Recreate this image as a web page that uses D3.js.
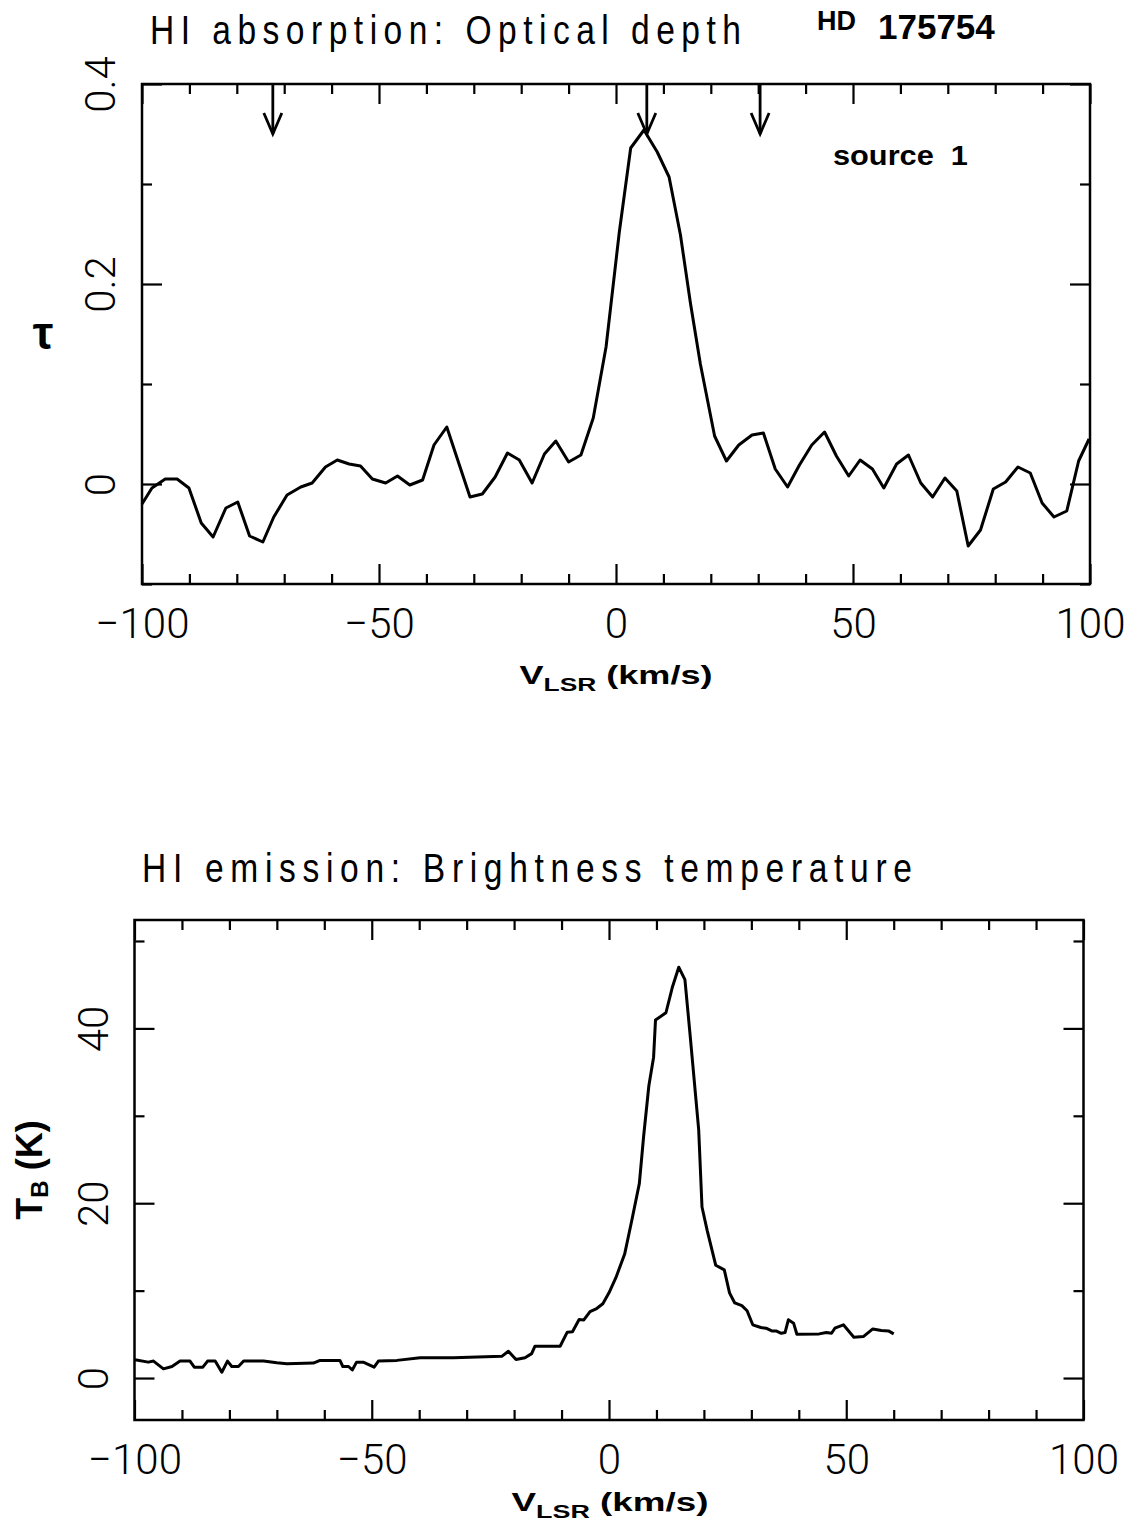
<!DOCTYPE html>
<html>
<head>
<meta charset="utf-8">
<script src="https://cdn.jsdelivr.net/npm/d3@7"></script>
<style>
html,body{margin:0;padding:0;background:#fff;}
svg{display:block;}
</style>
</head>
<body>
<div id="chart"></div>
<script>
// ---------------- DATA ----------------
// Top panel: HI absorption optical depth tau vs V_LSR (km/s)
const tauVelocity = [-100,-97.9,-95.1,-92.6,-90.1,-87.5,-85.0,-82.3,-79.8,-77.3,-74.5,-72.2,-69.4,-66.5,-64.1,-61.3,-58.8,-56.3,-53.9,-51.4,-48.6,-46.1,-43.5,-40.8,-38.4,-35.7,-30.8,-28.2,-25.5,-22.9,-20.4,-17.7,-15.1,-12.7,-10.0,-7.4,-4.8,-2.1,0.7,3.1,5.9,8.7,11.2,13.6,15.7,17.8,20.8,23.3,25.9,28.7,31.1,33.6,36.2,38.7,41.3,44.0,46.5,49.1,51.5,54.1,56.5,59.2,61.7,64.3,66.8,69.4,71.9,74.3,76.9,79.6,82.2,84.8,87.4,89.9,92.4,95.1,97.6,99.8];
const tauValues = [-0.020,-0.004,0.005,0.005,-0.004,-0.039,-0.053,-0.024,-0.018,-0.052,-0.058,-0.033,-0.011,-0.003,0.001,0.017,0.024,0.020,0.018,0.005,0.001,0.008,-0.001,0.004,0.039,0.057,-0.013,-0.010,0.007,0.031,0.024,0.001,0.030,0.043,0.022,0.029,0.066,0.137,0.252,0.336,0.354,0.332,0.307,0.249,0.181,0.120,0.048,0.023,0.039,0.049,0.051,0.015,-0.003,0.019,0.039,0.052,0.028,0.008,0.024,0.015,-0.004,0.020,0.029,0.001,-0.013,0.006,-0.007,-0.062,-0.046,-0.005,0.002,0.017,0.011,-0.019,-0.033,-0.027,0.023,0.045];
// Arrow markers (velocities of components)
const arrowVelocity = [-72.4, 6.5, 30.4];
const arrowTop = 0.4, arrowTip = 0.35;

// Bottom panel: HI emission brightness temperature T_B (K) vs V_LSR
const tbVelocity = [-99.9,-97.1,-96.0,-93.9,-92.1,-90.4,-88.3,-87.4,-85.6,-84.6,-83.0,-81.6,-80.4,-79.5,-78.1,-77.0,-72.8,-70.0,-67.9,-62.3,-60.9,-56.7,-56.1,-54.9,-54.1,-53.2,-51.8,-49.5,-48.6,-44.7,-39.8,-32.8,-22.6,-21.2,-19.6,-17.7,-16.3,-15.6,-10.3,-8.8,-7.7,-6.3,-5.3,-4.0,-2.6,-1.3,0.0,1.45,3.3,4.8,6.4,7.3,8.4,9.4,9.8,12.0,13.4,14.7,16.0,17.1,18.9,19.6,20.7,22.5,24.3,25.4,26.5,28.0,29.1,30.3,32.0,33.1,34.3,35.2,36.3,37.1,37.8,38.9,39.6,44.3,45.8,46.9,47.6,49.4,51.6,53.6,55.6,57.4,58.9,60.0];
const tbValues = [2.09,1.82,1.94,1.05,1.32,1.94,1.94,1.24,1.24,1.94,1.94,0.66,1.94,1.32,1.32,1.94,1.94,1.74,1.63,1.71,2.02,2.02,1.32,1.32,0.93,1.82,1.82,1.24,1.94,2.02,2.33,2.33,2.48,3.06,2.13,2.33,2.79,3.64,3.64,5.25,5.30,6.70,6.65,7.60,7.95,8.50,9.75,11.48,14.18,18.03,22.27,27.66,33.44,36.71,40.95,41.79,44.80,47.0,45.57,39.21,28.43,19.57,16.87,12.90,12.37,9.75,8.59,8.28,7.70,6.09,5.78,5.70,5.39,5.39,5.12,5.20,6.66,6.28,5.01,5.05,5.20,5.12,5.70,6.09,4.66,4.74,5.62,5.43,5.39,5.05];

// Axis ticks and labels
const velocityMajorTicks = [-100,-50,0,50,100];
const velocityTickLabels = ["\u2212100","\u221250","0","50","100"];
const velocityMinorTicks = [-90,-80,-70,-60,-40,-30,-20,-10,10,20,30,40,60,70,80,90];
const tauMajorTicks = [0,0.2,0.4];
const tauTickLabels = ["0","0.2","0.4"];
const tauMinorTicks = [-0.1,0.1,0.3];
const tbMajorTicks = [0,20,40];
const tbTickLabels = ["0","20","40"];
const tbMinorTicks = [10,30,50];

const topTitle = "HI absorption: Optical depth";
const bottomTitle = "HI emission: Brightness temperature";
const starName = ["HD", "175754"];
const sourceLabel = "source  1";

// ---------------- DRAWING ----------------
const W = 1145, H = 1532;
const svg = d3.select("#chart").append("svg").attr("width", W).attr("height", H);

const tickFont = "Roboto, 'Liberation Sans', Arial, sans-serif";
const titleFont = "'Liberation Sans', Arial, sans-serif";
const boldFont = "'Liberation Sans', Arial, sans-serif";

function panel(opts) {
  const {x, y, yMajor, yLabels, yMinor} = opts;
  const [x0, x1] = x.range();
  const [y0, y1] = y.range(); // y0 bottom, y1 top
  const g = svg.append("g");

  function styleAxis(sel) {
    sel.attr("font-size", null).attr("font-family", null);
    sel.select(".domain").remove();
    sel.selectAll("line").attr("stroke", "#000").attr("stroke-width", 2.2);
  }
  const sides = [
    [d3.axisBottom(x).tickValues(velocityMinorTicks), `translate(0,${y0})`],
    [d3.axisTop(x).tickValues(velocityMinorTicks), `translate(0,${y1})`],
    [d3.axisLeft(y).tickValues(yMinor), `translate(${x0},0)`],
    [d3.axisRight(y).tickValues(yMinor), `translate(${x1},0)`]
  ];
  sides.forEach(([ax, tr]) => {
    g.append("g").attr("transform", tr)
      .call(ax.tickSizeInner(-10).tickSizeOuter(0).tickFormat(""))
      .call(styleAxis);
  });
  g.append("g").attr("transform", `translate(0,${y1})`)
    .call(d3.axisTop(x).tickValues(velocityMajorTicks).tickSizeInner(-20).tickSizeOuter(0).tickFormat(""))
    .call(styleAxis);
  g.append("g").attr("transform", `translate(${x1},0)`)
    .call(d3.axisRight(y).tickValues(yMajor).tickSizeInner(-20).tickSizeOuter(0).tickFormat(""))
    .call(styleAxis);
  g.append("g").attr("transform", `translate(0,${y0})`)
    .call(d3.axisBottom(x).tickValues(velocityMajorTicks).tickSizeInner(-20).tickSizeOuter(0)
      .tickFormat((d, i) => velocityTickLabels[i]))
    .call(styleAxis)
    .call(s => s.selectAll("text")
      .attr("y", 54).attr("dy", null)
      .attr("fill", "#000")
      .style("font-family", tickFont).style("font-weight", 300).style("font-size", "42px"));
  g.append("g").attr("transform", `translate(${x0},0)`)
    .call(d3.axisLeft(y).tickValues(yMajor).tickSizeInner(-20).tickSizeOuter(0)
      .tickFormat((d, i) => yLabels[i]))
    .call(styleAxis)
    .call(s => s.selectAll("text")
      .attr("x", null).attr("dy", null)
      .attr("text-anchor", "middle")
      .attr("transform", "translate(-27,0) rotate(-90)")
      .attr("fill", "#000")
      .style("font-family", tickFont).style("font-weight", 300).style("font-size", "42px"));

  g.append("rect").attr("x", x0).attr("y", y1).attr("width", x1 - x0).attr("height", y0 - y1)
    .attr("fill", "none").attr("stroke", "#000").attr("stroke-width", 2.5);
  return g;
}

function stretchText(sel, target) {
  const len = sel.node().getComputedTextLength();
  return len > 0 ? target / len : 1;
}

function vlsrLabel(cx, baseline, target) {
  const t = svg.append("text")
    .attr("text-anchor", "middle")
    .style("font-family", boldFont).style("font-weight", "bold").style("font-size", "26px")
    .attr("fill", "#000");
  t.append("tspan").text("V");
  t.append("tspan").attr("dy", 7).style("font-size", "19px").text("LSR");
  t.append("tspan").attr("dy", -7).text(" (km/s)");
  const sx = stretchText(t, target);
  t.attr("transform", `translate(${cx},${baseline}) scale(${sx},1)`);
}

// narrow glyphs with wide letter spacing
function titleText(txt, x, baseline, target) {
  const sx = 0.84;
  const t = svg.append("text")
    .attr("transform", `translate(${x},${baseline}) scale(${sx},1)`)
    .style("font-family", titleFont).style("font-size", "40px")
    .attr("fill", "#000").text(txt);
  t.attr("textLength", target / sx).attr("lengthAdjust", "spacing");
}

// ---- Top panel ----
const xTop = d3.scaleLinear().domain([-100, 100]).range([142, 1090]);
const yTop = d3.scaleLinear().domain([-0.1, 0.4]).range([584, 84]);
panel({x: xTop, y: yTop, yMajor: tauMajorTicks, yLabels: tauTickLabels, yMinor: tauMinorTicks});

const tauData = tauVelocity.map((v, i) => [v, tauValues[i]]);
svg.append("path").datum(tauData)
  .attr("fill", "none").attr("stroke", "#000").attr("stroke-width", 3)
  .attr("stroke-linejoin", "round")
  .attr("d", d3.line().x(d => xTop(d[0])).y(d => yTop(d[1])));

const arrows = svg.append("g").attr("stroke", "#000").attr("stroke-width", 2.8).attr("fill", "none");
arrowVelocity.forEach(v => {
  const ax = xTop(v), ay0 = yTop(arrowTop), ay1 = yTop(arrowTip);
  arrows.append("line").attr("x1", ax).attr("x2", ax).attr("y1", ay0).attr("y2", ay1);
  arrows.append("path").attr("stroke-linejoin", "miter")
    .attr("d", `M${ax - 9},${ay1 - 21}L${ax},${ay1}L${ax + 9},${ay1 - 21}`);
});

titleText(topTitle, 150, 44, 591);
svg.append("text").attr("x", 817).attr("y", 30)
  .style("font-family", boldFont).style("font-weight", "bold").style("font-size", "27px")
  .attr("fill", "#000").text(starName[0]);
svg.append("text").attr("x", 878).attr("y", 39)
  .style("font-family", boldFont).style("font-weight", "bold").style("font-size", "35px")
  .attr("fill", "#000").text(starName[1]);

{
  const s = svg.append("text")
    .style("font-family", boldFont).style("font-weight", "bold").style("font-size", "27px")
    .style("white-space", "pre")
    .attr("fill", "#000").text(sourceLabel);
  const sx = stretchText(s, 135);
  s.attr("transform", `translate(833,165) scale(${sx},1)`);
}

svg.append("text").attr("x", 43).attr("y", 349).attr("text-anchor", "middle")
  .style("font-family", boldFont).style("font-weight", "bold").style("font-size", "46px")
  .attr("fill", "#000").text("\u03C4");

vlsrLabel(616, 684, 193);

// ---- Bottom panel ----
const xBot = d3.scaleLinear().domain([-100, 100]).range([134.5, 1083.5]);
const yBot = d3.scaleLinear().domain([-4.8, 52.4]).range([1420, 920]);
panel({x: xBot, y: yBot, yMajor: tbMajorTicks, yLabels: tbTickLabels, yMinor: tbMinorTicks});

const tbData = tbVelocity.map((v, i) => [v, tbValues[i]]);
svg.append("path").datum(tbData)
  .attr("fill", "none").attr("stroke", "#000").attr("stroke-width", 3)
  .attr("stroke-linejoin", "round")
  .attr("d", d3.line().x(d => xBot(d[0])).y(d => yBot(d[1])));

titleText(bottomTitle, 142, 882, 770);

{
  const t = svg.append("text").attr("text-anchor", "middle")
    .attr("transform", "translate(42,1170) rotate(-90)")
    .style("font-family", boldFont).style("font-weight", "bold").style("font-size", "36px")
    .attr("fill", "#000");
  t.append("tspan").text("T");
  t.append("tspan").attr("dy", 6).style("font-size", "24px").text("B");
  t.append("tspan").attr("dy", -6).text(" (K)");
}

vlsrLabel(610, 1511, 197);
</script>
</body>
</html>
